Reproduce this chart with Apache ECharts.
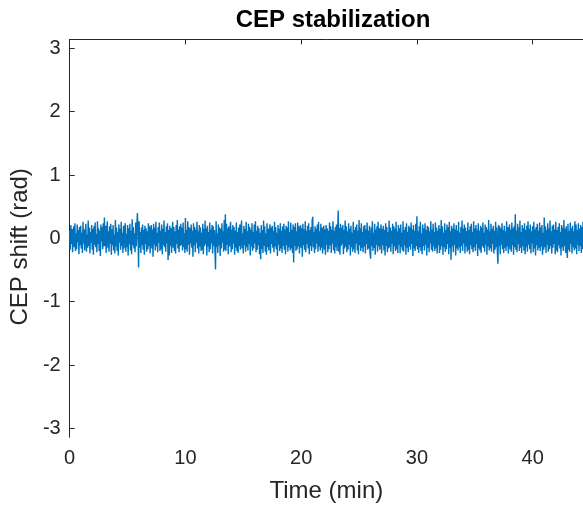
<!DOCTYPE html>
<html>
<head>
<meta charset="utf-8">
<script src="https://cdn.jsdelivr.net/npm/echarts@6/dist/echarts.min.js"></script>
<style>html,body{margin:0;padding:0;background:#fff}#c{width:583px;height:510px}</style>
</head>
<body>
<div id="c"></div>
<script>
// Sampling step of the recorded trace (minutes)
var timeStep = 0.05;
// CEP shift (rad)
var cepShift = [
0.12,-0.18,0.21,-0.09,0.15,-0.22,0.05,0.19,-0.14,0.24,-0.20,0.08,-0.17,0.22,-0.06,0.13,-0.25,0.18,-0.11,0.20,-0.16,0.09,-0.23,0.26,-0.08,0.14,-0.19,0.11,0.23,-0.21,
0.06,-0.15,0.28,-0.12,0.17,-0.24,0.10,-0.07,0.21,-0.18,0.15,-0.26,0.19,-0.10,0.25,-0.14,0.07,-0.22,0.27,-0.09,0.16,-0.20,0.12,-0.28,0.22,-0.05,0.18,-0.17,0.24,-0.13,
0.33,-0.12,0.20,-0.23,0.08,0.27,-0.15,0.11,-0.21,0.19,-0.08,0.23,-0.26,0.14,-0.11,0.21,-0.19,0.06,-0.24,0.29,-0.13,0.17,-0.20,0.10,-0.27,0.22,-0.07,0.15,-0.18,0.26,
-0.12,0.09,-0.23,0.20,-0.16,0.13,0.24,-0.21,0.07,-0.14,0.21,-0.27,0.16,-0.09,0.23,-0.19,0.12,-0.25,0.30,-0.11,0.18,-0.16,0.08,-0.22,0.25,-0.13,0.19,0.40,0.14,-0.46,
0.27,-0.15,0.10,-0.23,0.17,-0.11,0.22,-0.18,0.13,-0.26,0.20,-0.09,0.16,-0.21,0.11,-0.17,0.24,-0.12,0.19,-0.24,0.08,0.21,-0.16,0.14,-0.29,0.23,-0.10,0.17,-0.19,0.26,
-0.13,0.09,-0.22,0.18,-0.07,0.25,-0.20,0.12,-0.17,0.22,-0.25,0.15,-0.11,0.28,-0.14,0.10,-0.21,0.19,-0.08,0.24,-0.34,0.13,-0.27,0.20,-0.12,0.16,-0.23,0.09,0.26,-0.15,
0.18,-0.20,0.11,-0.24,0.21,-0.09,0.29,-0.16,0.14,-0.22,0.19,-0.12,0.23,-0.10,0.17,-0.19,0.25,-0.14,0.08,-0.23,0.32,-0.17,0.13,-0.21,0.27,-0.10,0.18,-0.26,0.16,-0.08,
0.22,-0.15,0.12,-0.29,0.24,-0.11,0.18,-0.22,0.14,-0.07,0.26,-0.16,0.11,-0.24,0.21,-0.13,0.17,-0.20,0.09,-0.18,0.23,-0.25,0.15,-0.12,0.28,-0.09,0.16,-0.27,0.20,-0.13,
0.10,-0.22,0.25,-0.17,0.14,-0.08,0.21,-0.24,0.19,-0.12,0.13,-0.19,-0.49,0.27,-0.14,0.08,-0.23,0.22,-0.11,0.17,-0.28,0.15,-0.16,0.24,-0.07,0.11,-0.21,0.29,-0.18,0.38,
-0.20,0.23,-0.10,0.16,-0.25,0.19,-0.13,0.09,0.26,-0.22,0.14,-0.17,0.21,-0.08,0.18,-0.26,0.12,-0.15,0.25,-0.20,0.10,-0.23,0.17,-0.12,0.22,-0.18,0.13,0.28,-0.16,0.08,
-0.24,0.20,-0.11,0.15,-0.21,0.26,-0.14,0.11,-0.19,0.23,-0.09,0.18,-0.27,0.14,-0.13,0.24,-0.20,0.10,-0.16,0.22,-0.08,0.27,-0.22,0.12,-0.18,0.20,-0.11,0.16,-0.25,0.09,
-0.33,0.21,-0.17,0.13,-0.23,0.28,-0.12,0.19,-0.21,0.08,-0.26,0.24,-0.14,0.15,-0.19,0.11,0.22,-0.24,0.17,-0.09,0.20,-0.15,0.12,-0.22,0.26,-0.13,0.18,-0.17,0.09,-0.28,
0.21,-0.10,0.15,-0.20,0.24,-0.16,0.12,-0.23,0.19,-0.12,0.23,-0.18,0.14,-0.25,0.20,-0.11,0.17,-0.21,0.27,-0.14,0.10,-0.19,0.25,-0.16,0.13,-0.23,0.22,-0.38,0.18,-0.12,
0.24,-0.20,0.11,-0.17,0.25,-0.13,0.19,-0.24,0.08,0.21,-0.15,0.16,-0.29,0.23,-0.11,0.14,-0.18,0.27,-0.22,0.12,-0.09,0.20,-0.16,0.24,-0.25,0.13,-0.12,0.18,-0.20,0.28,
0.34,-0.14,0.10,-0.23,0.19,-0.17,0.15,-0.08,0.22,-0.21,0.26,-0.13,0.11,-0.19,0.23,-0.15,0.17,-0.24,0.09,0.20,-0.18,0.14,-0.26,0.21,-0.10,0.16,-0.22,0.12,-0.17,0.25,
-0.11,0.19,-0.23,0.14,-0.08,0.27,-0.19,0.12,-0.24,0.18,-0.14,0.22,-0.20,0.10,0.44,-0.21,0.16,-0.26,0.23,-0.12,0.17,-0.09,0.21,-0.25,0.13,-0.16,0.28,-0.13,0.19,-0.22,
0.11,-0.18,0.24,-0.10,0.15,-0.27,0.20,-0.14,0.09,-0.21,0.26,-0.17,0.13,-0.23,0.18,-0.08,0.22,-0.19,0.12,-0.25,0.29,-0.11,0.16,-0.20,0.24,-0.15,0.10,-0.22,0.19,-0.13,
0.21,-0.24,0.14,-0.09,0.25,-0.18,0.12,-0.16,0.20,-0.23,-0.32,0.17,-0.12,0.27,-0.20,0.09,-0.15,0.23,-0.26,0.14,-0.10,0.19,-0.21,0.26,-0.13,0.16,-0.18,0.08,0.22,-0.24,
0.15,-0.11,0.20,-0.19,0.13,-0.27,0.24,-0.12,0.18,-0.22,0.10,-0.16,0.28,-0.14,0.17,-0.21,0.12,-0.09,0.23,-0.25,0.19,-0.13,0.15,-0.20,0.26,-0.17,0.11,-0.23,0.21,-0.10,
0.16,-0.24,0.22,-0.14,0.09,-0.19,0.27,-0.21,0.13,-0.11,0.18,-0.26,0.24,-0.15,0.10,-0.22,0.20,-0.13,0.17,-0.18,0.25,-0.09,0.14,-0.28,0.21,-0.16,0.12,-0.20,0.23,-0.12,
0.35,-0.17,0.11,-0.23,0.19,-0.14,0.26,-0.20,0.08,-0.25,0.22,-0.12,0.16,-0.19,0.24,-0.10,0.13,-0.27,0.20,-0.15,0.18,-0.22,0.11,-0.08,0.27,-0.18,0.14,-0.21,0.23,-0.13,
0.10,-0.20,0.25,-0.16,0.17,-0.24,0.12,-0.11,0.21,-0.23,0.15,-0.18,0.29,-0.12,0.19,-0.26,0.09,-0.14,0.24,-0.21,0.13,-0.17,0.22,-0.09,0.18,-0.25,0.26,-0.15,0.11,-0.34,
0.20,-0.13,0.16,-0.22,0.24,-0.10,0.14,-0.27,0.21,-0.16,0.12,-0.19,0.26,-0.14,0.09,-0.23,0.18,-0.12,0.28,-0.20,0.15,-0.08,0.22,-0.24,0.17,-0.13,0.11,-0.21,0.25,-0.18,
0.13,-0.25,0.19,-0.11,0.23,-0.17,0.10,-0.22,0.27,-0.14,0.16,-0.20,0.21,-0.09,0.14,-0.28,0.24,-0.16,0.12,-0.19,0.20,-0.23,0.17,-0.12,0.25,-0.15,0.09,-0.21,0.22,-0.10,
0.18,-0.26,0.14,-0.13,0.29,-0.19,0.11,-0.16,0.23,-0.21,0.15,-0.09,0.20,-0.24,0.12,-0.18,0.26,-0.14,0.17,-0.22,-0.40,0.21,-0.12,0.19,-0.25,0.16,-0.10,0.24,-0.17,0.13,
-0.23,0.20,-0.15,0.11,-0.20,0.27,-0.13,0.18,-0.24,0.09,0.22,-0.17,0.14,-0.21,0.25,-0.11,0.16,-0.26,0.19,-0.14,0.38,-0.18,0.12,-0.22,0.23,-0.09,0.17,-0.20,0.28,-0.15,
0.10,-0.23,0.21,-0.12,0.16,-0.19,0.24,-0.25,0.13,-0.14,0.20,-0.21,0.27,-0.10,0.15,-0.17,0.22,-0.24,0.11,-0.08,0.19,-0.22,0.26,-0.16,0.14,-0.27,0.18,-0.11,0.23,-0.19,
0.12,-0.15,0.25,-0.20,0.17,-0.13,0.21,-0.26,0.09,-0.18,0.33,-0.14,0.19,-0.23,0.13,-0.10,0.24,-0.21,0.16,-0.17,0.28,-0.12,0.11,-0.24,0.20,-0.15,0.22,-0.09,0.14,-0.25,
0.26,-0.19,0.13,-0.22,0.18,-0.11,0.24,-0.16,0.10,-0.27,0.21,-0.14,0.17,-0.20,0.29,-0.12,0.15,-0.23,0.19,-0.13,-0.31,0.23,-0.18,0.12,-0.21,0.25,-0.09,0.16,-0.24,0.20,
-0.14,0.11,-0.19,0.27,-0.16,0.22,-0.25,0.13,-0.10,0.24,-0.20,0.15,-0.12,0.21,-0.23,0.18,-0.17,0.26,-0.11,0.14,-0.22,0.19,-0.15,0.23,-0.26,0.12,-0.18,0.20,-0.13,0.17
];
var xTicks = [0, 10, 20, 30, 40];
var yTicks = [-3, -2, -1, 0, 1, 2, 3];

var data = cepShift.map(function (v, i) { return [i * timeStep, v]; });

var axisCol = '#262626';
var font = 'Liberation Sans, Arial, sans-serif';
var chart = echarts.init(document.getElementById('c'), null, {renderer: 'canvas'});
chart.setOption({
  animation: false,
  backgroundColor: '#fff',
  title: {
    text: 'CEP stabilization', left: 328, top: 3, textAlign: 'center',
    textStyle: {fontFamily: font, fontSize: 24, fontWeight: 'bold', color: '#000'}
  },
  grid: {left: 69, right: 0, top: 39.4, bottom: 72.7, containLabel: false},
  xAxis: [{
    type: 'value', min: 0, max: 44.35, position: 'bottom',
    name: 'Time (min)', nameLocation: 'middle', nameGap: 42,
    nameTextStyle: {fontFamily: font, fontSize: 24, color: axisCol},
    axisLine: {show: true, lineStyle: {color: axisCol, width: 1}},
    axisTick: {show: true, inside: true, length: 5, customValues: xTicks, lineStyle: {color: axisCol}},
    axisLabel: {customValues: xTicks, fontFamily: font, fontSize: 20, color: axisCol, margin: 11},
    splitLine: {show: false}
  }, {
    type: 'value', min: 0, max: 44.35, position: 'top',
    axisLine: {show: true, lineStyle: {color: axisCol, width: 1}},
    axisTick: {show: true, inside: true, length: 5, customValues: xTicks, lineStyle: {color: axisCol}},
    axisLabel: {show: false},
    splitLine: {show: false}
  }],
  yAxis: {
    type: 'value', min: -Math.PI, max: Math.PI,
    name: 'CEP shift (rad)', nameLocation: 'middle', nameGap: 28,
    nameTextStyle: {fontFamily: font, fontSize: 24, color: axisCol, padding: [0, 17, 0, 0]},
    axisLine: {show: true, lineStyle: {color: axisCol, width: 1}},
    axisTick: {show: true, inside: true, length: 5, customValues: yTicks, lineStyle: {color: axisCol}},
    axisLabel: {customValues: yTicks, fontFamily: font, fontSize: 20, color: axisCol, margin: 9},
    splitLine: {show: false}
  },
  series: [{
    type: 'line', data: data, showSymbol: false, symbol: 'none',
    lineStyle: {color: '#0072BD', width: 1.4}, clip: true
  }]
});
</script>
</body>
</html>
